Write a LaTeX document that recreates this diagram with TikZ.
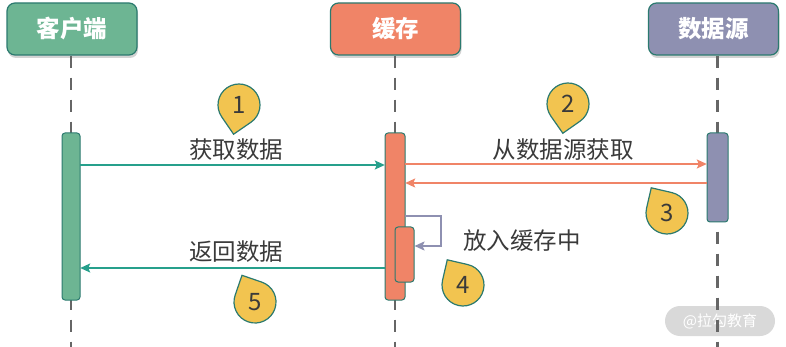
\documentclass[tikz,border=0pt]{standalone}
\usepackage{fontspec}
\newfontfamily\cjk{Noto Sans CJK SC}
\usetikzlibrary{arrows.meta, shadows}

\definecolor{clientgreen}{HTML}{6DB593}
\definecolor{cachered}{HTML}{F08467}
\definecolor{sourcegray}{HTML}{8E90B1}
\definecolor{edgeteal}{HTML}{2B7A6F}
\definecolor{msgteal}{HTML}{26A08C}
\definecolor{pinyellow}{HTML}{F2C450}
\definecolor{textgray}{HTML}{3A3A3A}

\tikzset{
  head/.style={rectangle, rounded corners=8pt, draw=edgeteal, line width=1.2pt,
    minimum width=130pt, minimum height=52pt, text=white,
    font=\cjk\bfseries\fontsize{23.5}{28}\selectfont,
    drop shadow={shadow xshift=1pt, shadow yshift=-3pt, opacity=0.35}},
  bar/.style={rectangle, rounded corners=3pt, draw=edgeteal, line width=1pt, inner sep=0pt},
  lifeline/.style={draw=black!60, line width=2.6pt, dash pattern=on 12pt off 10pt},
  msg/.style={line width=1.6pt, -{Stealth[length=10pt, width=9pt, inset=2pt]}},
  label/.style={text=textgray, font=\cjk\fontsize{23.5}{28}\selectfont},
  pinshape/.style={fill=pinyellow, draw=edgeteal, line width=1.2pt},
  pinnum/.style={text=textgray, font=\cjk\fontsize{24}{28}\selectfont}
}

% marker: center, rotation, name, number
\newcommand{\pin}[4]{%
  \begin{scope}[shift={#1}, rotate=#2]
    \draw[pinshape] (21,-21) -- (21,0) arc[start angle=0, end angle=270, radius=21] -- cycle;
  \end{scope}
  \node[pinnum] (#3) at #1 {#4};
}

\begin{document}
\begin{tikzpicture}[x=1pt, y=1pt]
  \useasboundingbox (0,0) rectangle (786,-347);

  % watermark
  \node (mark) at (720,-321) [rectangle, rounded corners=15pt, fill=black!15, text=white,
    minimum width=110pt, minimum height=30pt, font=\cjk\fontsize{15}{18}\selectfont] {@拉勾教育};

  % activation bars (positions only, drawn later)
  \path (71,-216.5) node (clientbar) [minimum width=18pt, minimum height=167pt, inner sep=0pt] {};
  \path (395,-216.5) node (cachebar) [minimum width=20pt, minimum height=167pt, inner sep=0pt] {};
  \path (717.5,-177.5) node (sourcebar) [minimum width=21pt, minimum height=89pt, inner sep=0pt] {};

  % headers
  \node (client) at (72,-29) [head, fill=clientgreen] {客户端};
  \node (cache) at (395.5,-29) [head, fill=cachered] {缓存};
  \node (source) at (713.5,-29) [head, fill=sourcegray] {数据源};

  % lifelines
  \draw[lifeline] (clientbar |- client.south) -- (clientbar |- 0,-347);
  \draw[lifeline] (cachebar |- cache.south) -- (cachebar |- 0,-347);
  \draw[lifeline] (sourcebar |- source.south) -- (sourcebar |- 0,-347);

  % bars
  \node at (clientbar) [bar, fill=clientgreen, minimum width=18pt, minimum height=167pt] {};
  \node at (cachebar) [bar, fill=cachered, minimum width=20pt, minimum height=167pt] {};
  \node at (sourcebar) [bar, fill=sourcegray, minimum width=21pt, minimum height=89pt] {};
  \node (innerbar) at (404.5,-254.5) [bar, fill=cachered, minimum width=19pt, minimum height=55pt] {};

  % messages
  \draw[msg, msgteal] (clientbar.east |- 0,-165) -- (cachebar.west |- 0,-165);
  \draw[msg, cachered] (cachebar.east |- 0,-164) -- (sourcebar.west |- 0,-164);
  \draw[msg, cachered] (sourcebar.west |- 0,-183) -- (cachebar.east |- 0,-183);
  \draw[msg, sourcegray] (cachebar.east |- 0,-216) -- ++(36,0) |- (innerbar.east |- 0,-246);
  \draw[msg, msgteal] (cachebar.west |- 0,-268) -- (clientbar.east |- 0,-268);

  % labels
  \node (get) at (236,-150) [label] {获取数据};
  \node (fetch) at (563,-150) [label] {从数据源获取};
  \node (store) at (522,-241) [label] {放入缓存中};
  \node (back) at (236,-252) [label] {返回数据};

  % markers
  \pin{(239,-105)}{-55.5}{one}{1}
  \pin{(568,-104)}{-55}{two}{2}
  \pin{(667,-213)}{167}{three}{3}
  \pin{(463,-285)}{167}{four}{4}
  \pin{(255,-302)}{161}{five}{5}
\end{tikzpicture}
\end{document}
